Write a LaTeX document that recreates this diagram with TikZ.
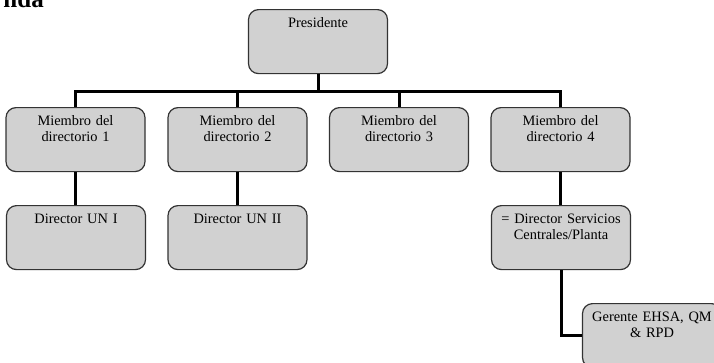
\documentclass[tikz,border=0pt]{standalone}
\usepackage{fontspec}
\setmainfont{Liberation Serif}
\begin{document}
\begin{tikzpicture}[x=1pt,y=-1pt,
  orgbox/.style={draw=black!80, line width=1.2pt, fill=black!18,
    rounded corners=10pt, minimum width=139pt, inner xsep=4pt, inner ysep=4pt,
    text width=131pt, align=center, text height=14pt, text depth=42pt,
    font=\fontsize{14.4}{16}\selectfont, anchor=north},
  link/.style={line width=3pt, draw=black}]
\useasboundingbox (0,0) rectangle (714,362);
\clip (0,0) rectangle (714,362);

% section heading running in from above
\node[anchor=base east, inner sep=0pt, font=\fontsize{25}{28}\bfseries] (heading) at (44,7) {nda};

% boxes
\node[orgbox] (pres) at (318,9) {Presidente};
\node[orgbox] (m1) at (75.5,107) {Miembro del\\directorio 1};
\node[orgbox] (m2) at (237.5,107) {Miembro del\\directorio 2};
\node[orgbox] (m3) at (399,107) {Miembro del\\directorio 3};
\node[orgbox] (m4) at (560.5,107) {Miembro del\\directorio 4};
\node[orgbox] (d1) at (76,205) {Director UN I};
\node[orgbox] (d2) at (237.5,205) {Director UN II};
\node[orgbox] (d4) at (561,205) {= Director Servicios\\Centrales/Planta};
\node[orgbox] (g) at (652,303) {Gerente EHSA, QM\\\& RPD};

% connectors
\coordinate (bus) at (0,91);
\draw[link] (pres.south) -- (pres.south |- bus);
\draw[link] (m1.north) -- (m1.north |- bus) -- (m4.north |- bus) -- (m4.north);
\draw[link] (m2.north) -- (m2.north |- bus);
\draw[link] (m3.north) -- (m3.north |- bus);
\draw[link] (m1.south) -- (m1.south |- d1.north);
\draw[link] (m2.south) -- (d2.north);
\draw[link] (m4.south) -- (m4.south |- d4.north);
\draw[link] (d4.south) |- (g.west);
\end{tikzpicture}
\end{document}
